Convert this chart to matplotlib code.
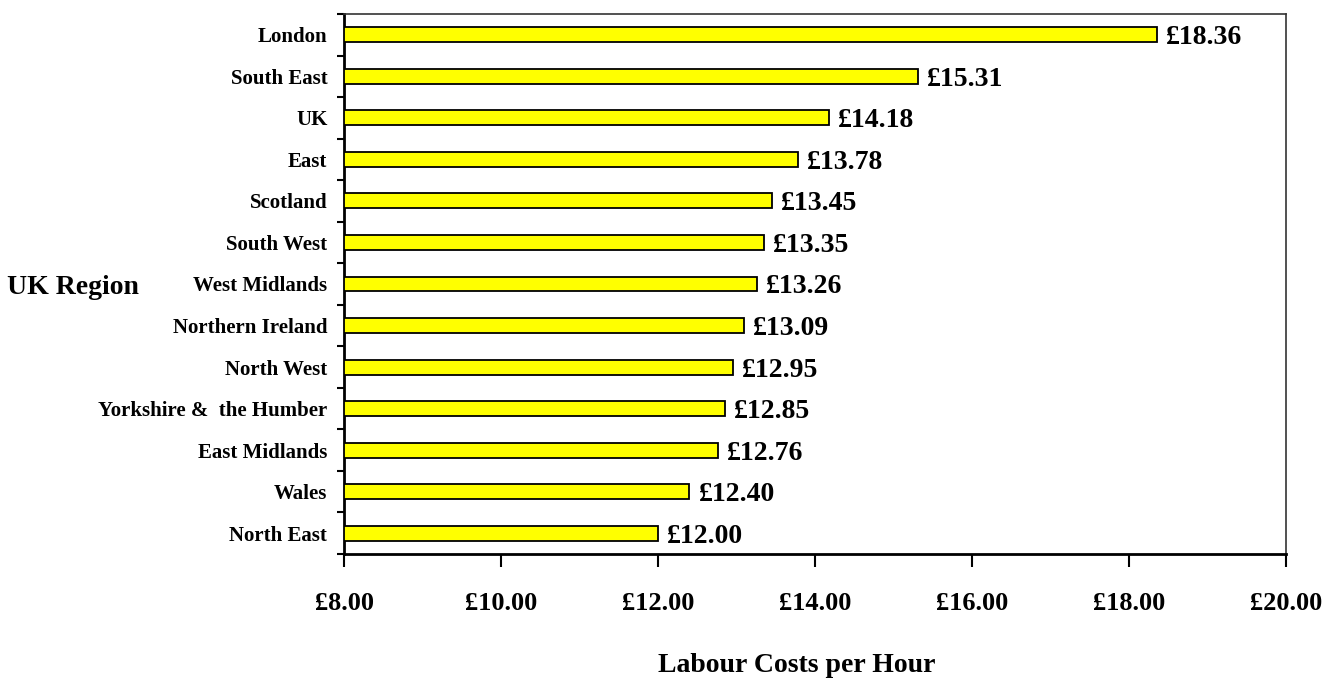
import matplotlib
matplotlib.use("Agg")
import matplotlib.pyplot as plt
import matplotlib.transforms as mtransforms
from matplotlib import font_manager as fm
import numpy as np

regions = ["London", "South East", "UK", "East", "Scotland", "South West",
           "West Midlands", "Northern Ireland", "North West", "Yorkshire &  the Humber",
           "East Midlands", "Wales", "North East"]
costs = [18.36, 15.31, 14.18, 13.78, 13.45, 13.35, 13.26, 13.09, 12.95, 12.85,
         12.76, 12.40, 12.00]
xticks = [8, 10, 12, 14, 16, 18, 20]

plt.rcParams['font.family'] = ['Liberation Serif', 'DejaVu Serif']
plt.rcParams['font.weight'] = 'bold'

bold_file = fm.findfont(fm.FontProperties(family='Liberation Serif', weight='bold'))
fp_val = fm.FontProperties(fname=bold_file, size=20)

fig = plt.figure(figsize=(13.42, 6.78), dpi=100)
W, H = 1342, 678
left, right, top, bottom = 344, 1286, 14, 554
ax = fig.add_axes([left / W, 1 - bottom / H, (right - left) / W, (bottom - top) / H])

n = len(regions)
y = np.arange(n)
ax.barh(y, [c - 8 for c in costs], left=8, height=0.36, color='#FFFF00',
        edgecolor='black', linewidth=1.3, zorder=3)
ax.set_ylim(n - 0.5, -0.5)
ax.set_xlim(8, 20)

off = mtransforms.offset_copy(ax.transData, fig=fig, x=9, y=-3, units='dots')
for yi, c in zip(y, costs):
    ax.text(c, yi, f"£{c:.2f}", transform=off, ha='left', va='center',
            fontproperties=fp_val)

ax.set_yticks(y)
ax.set_yticklabels(regions, fontsize=15, fontweight='bold')
ax.set_yticks(np.arange(-0.5, n, 1), minor=True)
ax.tick_params(axis='y', which='major', length=0, pad=12)
ax.tick_params(axis='y', which='minor', length=5, width=1.5, direction='out', color='black')

ax.set_xticks(xticks)
ax.set_xticklabels([f"£{v:.2f}" for v in xticks], fontsize=19, fontweight='bold')
ax.tick_params(axis='x', which='major', length=9, width=1.5, direction='out', pad=18)

for s in ['left', 'bottom']:
    ax.spines[s].set_linewidth(2)
    ax.spines[s].set_color('black')
for s in ['top', 'right']:
    ax.spines[s].set_linewidth(1.2)
    ax.spines[s].set_color('#333333')

fig.text(73 / W, 1 - 287 / H, "UK Region", ha='center', va='center',
         fontsize=20, fontweight='bold')
fig.text(797 / W, 1 - 665 / H, "Labour Costs per Hour", ha='center', va='center',
         fontsize=20, fontweight='bold')

fig.savefig("out.png", dpi=100)
